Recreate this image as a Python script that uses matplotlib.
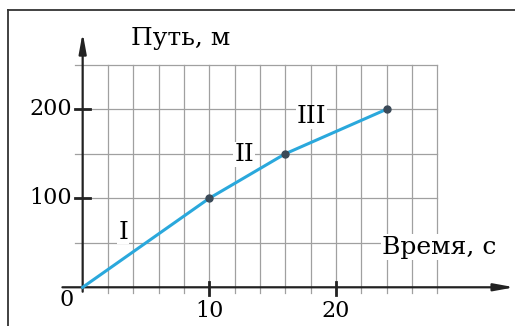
import numpy as np
import matplotlib.pyplot as plt
from matplotlib.lines import Line2D

# data: time (s) vs path (m)
time_s = [0, 10, 16, 24]
path_m = [0, 100, 150, 200]

x_ticks = [10, 20]
y_ticks = [100, 200]
x_grid = np.arange(0, 30, 2)
y_grid = np.arange(50, 300, 50)

segments = ["I", "II", "III"]
seg_pos = [(3.2, 62), (12.75, 149), (18.1, 191.5)]

plt.rcParams['font.family'] = ['DejaVu Serif']
fs = 16      # numbers
fs_lab = 18  # words and roman numerals

fig = plt.figure(figsize=(5.15, 3.26), dpi=100)
ax = fig.add_axes([0, 0, 1, 1])
ax.set_xlim(-6.53, 34.15)
ax.set_ylim(-43.5, 322.8)
ax.axis('off')

# frame round the picture
fig.add_artist(Line2D([8 / 515, 8 / 515], [1 - 10 / 326, -0.05], color='#333333', lw=1.3))
fig.add_artist(Line2D([8 / 515, 1.05], [1 - 10 / 326, 1 - 10 / 326], color='#333333', lw=1.3))

# grid
grid_col = '#a0a0a0'
for gx in x_grid[1:]:
    ax.plot([gx, gx], [-6.5, 250], color=grid_col, lw=0.9, zorder=1)
for gy in y_grid:
    ax.plot([-0.6, 28], [gy, gy], color=grid_col, lw=0.9, zorder=1)

# axes with arrows
ax.annotate('', xy=(34.1, 0), xytext=(-1.6, 0),
            arrowprops=dict(arrowstyle='-|>,head_length=1.2,head_width=0.22',
                            color='#222222', lw=1.6, shrinkA=0, shrinkB=0), zorder=3)
ax.annotate('', xy=(0, 286), xytext=(0, -5),
            arrowprops=dict(arrowstyle='-|>,head_length=1.2,head_width=0.22',
                            color='#222222', lw=1.6, shrinkA=0, shrinkB=0), zorder=3)

# ticks
for t in x_ticks:
    ax.plot([t, t], [-9, 6.5], color='#222222', lw=2, zorder=3)
    ax.text(t, -27, str(t), ha='center', va='center', fontsize=fs)
for t in y_ticks:
    ax.plot([-0.6, 0.6], [t, t], color='#222222', lw=2, zorder=3)
    ax.text(-0.85, t, str(t), ha='right', va='center', fontsize=fs)
ax.text(-1.25, -14, '0', ha='center', va='center', fontsize=fs)

# the curve
ax.plot(time_s, path_m, color='#2aa8dc', lw=2.2, zorder=4)
ax.plot(time_s[1:], path_m[1:], 'o', color='#3b4a58', ms=5, zorder=5)

# labels
ax.text(7.76, 279, 'Путь, м', ha='center', va='center', fontsize=fs_lab)
ax.text(28.2, 45, 'Время, с', ha='center', va='center', fontsize=fs_lab,
        bbox=dict(facecolor='white', edgecolor='none', pad=1), zorder=6)
for s, (px, py) in zip(segments, seg_pos):
    ax.text(px, py, s, ha='center', va='center', fontsize=fs_lab,
            bbox=dict(facecolor='white', edgecolor='none', pad=0.5), zorder=6)

fig.savefig('out.png', dpi=100)
